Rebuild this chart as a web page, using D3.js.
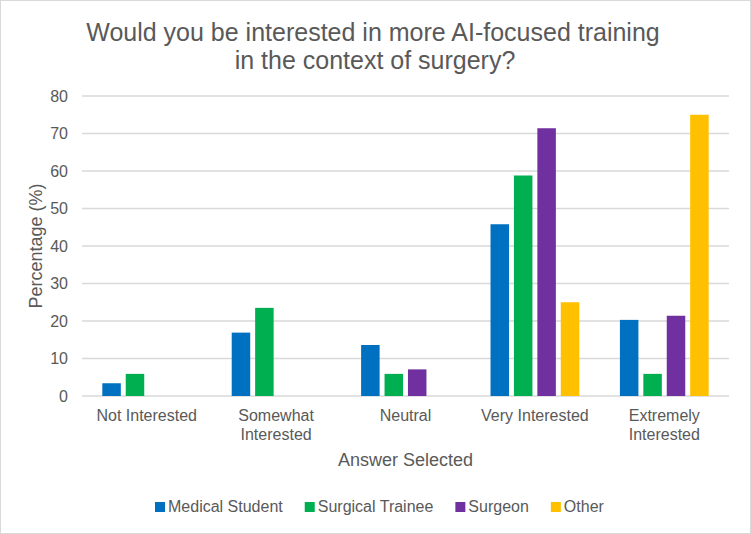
<!DOCTYPE html>
<html>
<head>
<meta charset="utf-8">
<script src="https://cdn.jsdelivr.net/npm/d3@7"></script>
<style>
  body { margin: 0; background: #fff; }
  text { font-family: "Liberation Sans", Arial, sans-serif; fill: #595959; }
</style>
</head>
<body>
<script>
// chart data
var categories = ["Not Interested", "Somewhat Interested", "Neutral", "Very Interested", "Extremely Interested"];
var seriesNames = ["Medical Student", "Surgical Trainee", "Surgeon", "Other"];
var medicalStudent = [3.4, 16.9, 13.6, 45.8, 20.3];
var surgicalTrainee = [5.9, 23.5, 5.9, 58.8, 5.9];
var surgeon = [0, 0, 7.1, 71.4, 21.4];
var other = [0, 0, 0, 25, 75];
var yTicks = [0, 10, 20, 30, 40, 50, 60, 70, 80];
var colors = ["#0070C0", "#00B050", "#7030A0", "#FFC000"];

function main(){
    var canvasWidth = 751;
    var canvasHeight = 534;
    var seriesValues = [medicalStudent, surgicalTrainee, surgeon, other];

    var svg = d3.select("body").append("svg")
        .attr("width", canvasWidth)
        .attr("height", canvasHeight);

    // outer chart frame
    svg.append("rect")
        .attr("x", 0.5).attr("y", 0.5)
        .attr("width", canvasWidth - 1).attr("height", canvasHeight - 1)
        .attr("fill", "#fff")
        .attr("stroke", "#d9d9d9");

    // title, two lines
    var title = svg.append("text")
        .attr("text-anchor", "middle")
        .attr("font-size", "25px");
    title.append("tspan").attr("x", 373).attr("y", 41)
        .text("Would you be interested in more AI-focused training");
    title.append("tspan").attr("x", 375).attr("y", 69)
        .text("in the context of surgery?");

    var x0 = d3.scaleBand().domain(categories).range([82, 729])
        .paddingInner(0.276).paddingOuter(0.138);
    var x1 = d3.scaleBand().domain(seriesNames).range([0, x0.bandwidth()])
        .paddingInner(0.21).paddingOuter(0.105);
    var yScale = d3.scaleLinear().domain([0, 80]).range([396, 96]);

    // gridlines
    svg.append("g")
        .selectAll("line")
        .data(yTicks)
        .enter().append("line")
        .attr("x1", 82).attr("x2", 729)
        .attr("y1", d => yScale(d)).attr("y2", d => yScale(d))
        .attr("stroke", "#d9d9d9")
        .attr("stroke-width", 1.3);

    // y axis labels
    var yAxis = svg.append("g")
        .attr("transform", "translate(82,0)")
        .call(d3.axisLeft(yScale).tickValues(yTicks).tickSize(0).tickPadding(14));
    yAxis.select(".domain").remove();
    yAxis.selectAll("text")
        .attr("font-size", "16px")
        .attr("font-family", null)
        .attr("fill", "#595959");

    // bars
    var rows = [];
    categories.forEach(function(c, i){
        seriesNames.forEach(function(s, j){
            rows.push({cat: c, series: s, value: seriesValues[j][i], color: colors[j]});
        });
    });

    svg.append("g")
        .selectAll(".bar")
        .data(rows.filter(d => d.value > 0))
        .enter().append("rect")
        .attr("class", "bar")
        .attr("x", d => x0(d.cat) + x1(d.series))
        .attr("y", d => yScale(d.value))
        .attr("width", x1.bandwidth())
        .attr("height", d => yScale(0) - yScale(d.value))
        .attr("fill", d => d.color);

    // x category labels (wrapped on two lines where needed)
    var xLabels = svg.append("g")
        .selectAll("text")
        .data(categories)
        .enter().append("text")
        .attr("text-anchor", "middle")
        .attr("font-size", "16px");
    xLabels.each(function(d){
        var parts = d === "Not Interested" || d === "Neutral" || d === "Very Interested"
            ? [d] : d.split(" ");
        var t = d3.select(this);
        parts.forEach(function(p, k){
            t.append("tspan")
                .attr("x", x0(d) + x0.bandwidth() / 2)
                .attr("y", 421 + k * 19)
                .text(p);
        });
    });

    // axis titles
    svg.append("text")
        .attr("x", 405.5).attr("y", 466)
        .attr("text-anchor", "middle")
        .attr("font-size", "18px")
        .text("Answer Selected");

    svg.append("text")
        .attr("transform", "translate(42,246) rotate(-90)")
        .attr("text-anchor", "middle")
        .attr("font-size", "18px")
        .text("Percentage (%)");

    // legend
    var legend = svg.append("g");
    var xPos = 155;
    seriesNames.forEach(function(s, j){
        legend.append("rect")
            .attr("x", xPos).attr("y", 502)
            .attr("width", 10).attr("height", 10)
            .attr("fill", colors[j]);
        var t = legend.append("text")
            .attr("x", xPos + 13).attr("y", 512)
            .attr("font-size", "16px")
            .text(s);
        xPos += 13 + t.node().getComputedTextLength() + 22;
    });
}
main();
</script>
</body>
</html>
